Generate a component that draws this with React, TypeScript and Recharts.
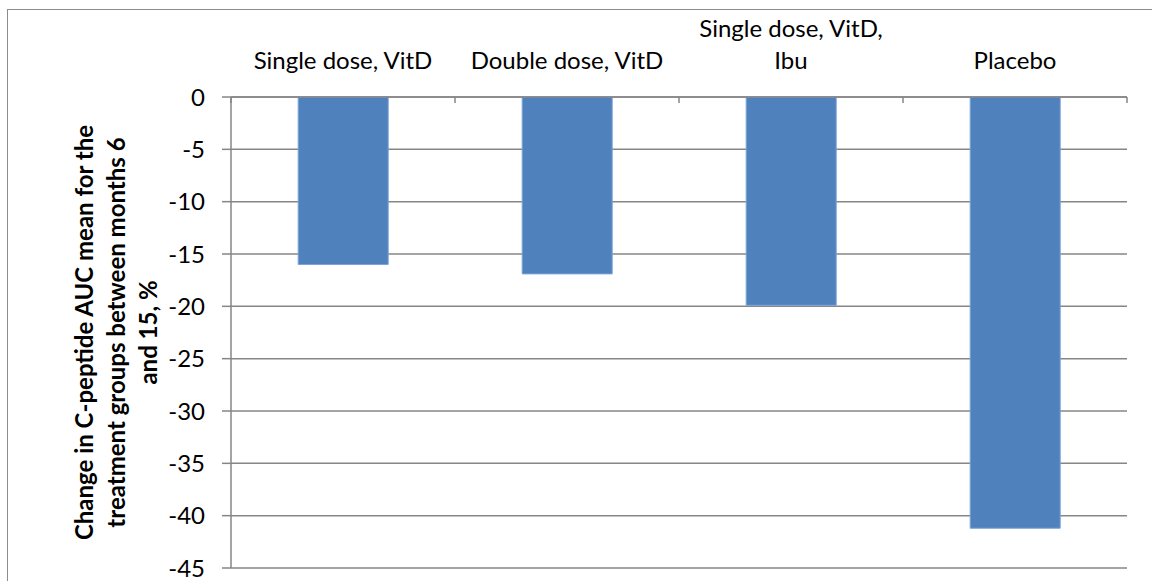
import { BarChart, Bar, XAxis, YAxis, CartesianGrid, Label } from 'recharts';

const categories = ['Single dose, VitD', 'Double dose, VitD', 'Single dose, VitD, Ibu', 'Placebo'];
const changePct = [-16, -16.9, -19.9, -41.2];
const yTicks = [0, -5, -10, -15, -20, -25, -30, -35, -40, -45];
const yTitle = ['Change in C-peptide AUC mean for the', 'treatment groups between months 6', 'and 15, %'];

const data = categories.map((name, i) => ({ name, value: changePct[i] }));

const FONT = 'Lato, "Open Sans", sans-serif';
const GRID = '#868686';

// Excel-like wrapping of the category labels
function wrap(text: string, max = 18) {
  const lines: string[] = [];
  let cur = '';
  for (const w of text.split(' ')) {
    const next = cur ? cur + ' ' + w : w;
    if (next.length > max && cur) {
      lines.push(cur);
      cur = w;
    } else cur = next;
  }
  if (cur) lines.push(cur);
  return lines;
}

function CategoryTick(props: any) {
  const { x, y, payload, index, visibleTicksCount, width } = props;
  const half = payload.offset || width / (visibleTicksCount * 2);
  const lines = wrap(payload.value);
  const last = index === visibleTicksCount - 1;
  return (
    <g>
      <line x1={x - half} x2={x - half} y1={y} y2={y + 6} stroke={GRID} strokeWidth={1.5} />
      {last && <line x1={x + half} x2={x + half} y1={y} y2={y + 6} stroke={GRID} strokeWidth={1.5} />}
      {lines.map((l, i) => (
        <text key={i} x={x} y={y - 28 - (lines.length - 1 - i) * 32} textAnchor="middle" fontSize={24} fontFamily={FONT} fill="#000">
          {l}
        </text>
      ))}
    </g>
  );
}

function YTitle(props: any) {
  const { viewBox } = props;
  const cy = viewBox.y + viewBox.height / 2;
  const xs = [85, 117, 149];
  return (
    <g>
      {yTitle.map((l, i) => (
        <text key={i} x={xs[i]} y={cy} transform={`rotate(-90 ${xs[i]} ${cy})`} textAnchor="middle" fontSize={24} fontWeight="bold" fontFamily={FONT} fill="#000">
          {l}
        </text>
      ))}
    </g>
  );
}

export default function App() {
  return (
    <div style={{ position: 'fixed', left: 7, top: 9, width: 1160, height: 600, border: '1px solid #8c8c8c', background: '#fff' }}>
      <BarChart width={1150} height={580} data={data} margin={{ top: 0, right: 31, left: 0, bottom: 22 }} barCategoryGap="30%">
        <CartesianGrid vertical={false} stroke={GRID} strokeWidth={1.5} />
        <XAxis
          dataKey="name"
          orientation="top"
          height={87}
          axisLine={{ stroke: GRID, strokeWidth: 1.5 }}
          tickLine={false}
          tickSize={0}
          tickMargin={0}
          interval={0}
          tick={<CategoryTick />}
        />
        <YAxis
          width={223}
          domain={[-45, 0]}
          ticks={yTicks}
          interval={0}
          axisLine={{ stroke: GRID, strokeWidth: 1.5 }}
          tickLine={{ stroke: GRID, strokeWidth: 1.5 }}
          tickSize={9}
          tickMargin={17}
          tick={{ fontSize: 24, fontFamily: FONT, fill: '#000' }}
        >
          <Label content={<YTitle />} />
        </YAxis>
        <Bar dataKey="value" fill="#4f81bd" stroke="#7ba3d6" strokeWidth={1} isAnimationActive={false} />
      </BarChart>
    </div>
  );
}
